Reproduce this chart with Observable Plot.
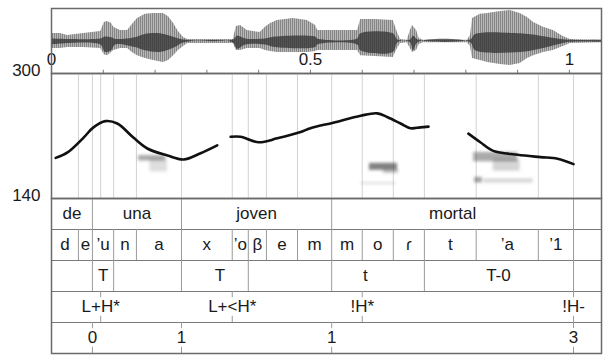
<!DOCTYPE html>
<html><head><meta charset="utf-8">
<script src="https://cdn.jsdelivr.net/npm/d3@7"></script>
<script src="https://cdn.jsdelivr.net/npm/@observablehq/plot@0.6"></script>
<style>
body{margin:0;background:#fff;}
#chart{position:relative;width:607px;height:358px;}
#chart svg{position:absolute;left:0;overflow:visible;}
</style></head><body><div id="chart"></div>
<script>
// ---------- waveform envelope (time in s, amplitude -1..1) ----------
const waveTime  = [0,0.017,0.031,0.062,0.095,0.102,0.108,0.116,0.120,0.133,0.147,0.156,0.166,0.181,0.197,0.216,0.226,0.236,0.245,0.255,0.263,0.351,0.357,0.365,0.378,0.403,0.413,0.423,0.436,0.467,0.494,0.510,0.514,0.591,0.597,0.625,0.660,0.668,0.674,0.687,0.693,0.697,0.705,0.710,0.718,0.803,0.809,0.813,0.828,0.842,0.867,0.886,0.905,0.919,0.931,0.950,0.969,0.988,1.002,1.062];
const waveUpper = [0.23,0.23,0.17,0.23,0.29,0.57,0.60,0.54,0.42,0.32,0.32,0.51,0.69,0.82,0.85,0.85,0.75,0.54,0.29,0.11,0.05,0.05,0.45,0.48,0.32,0.26,0.42,0.54,0.63,0.69,0.63,0.48,0.32,0.32,0.66,0.66,0.63,0.26,0.05,0.02,0.32,0.48,0.32,0.08,0.02,0.02,0.17,0.69,0.82,0.85,0.91,0.94,0.85,0.72,0.57,0.42,0.32,0.14,0.05,0.02];
const waveLower = [-0.23,-0.23,-0.2,-0.2,-0.23,-0.42,-0.45,-0.35,-0.29,-0.23,-0.23,-0.35,-0.45,-0.54,-0.6,-0.66,-0.6,-0.45,-0.29,-0.17,-0.08,-0.08,-0.29,-0.29,-0.23,-0.23,-0.29,-0.32,-0.35,-0.35,-0.35,-0.32,-0.29,-0.29,-0.45,-0.48,-0.51,-0.23,-0.08,-0.05,-0.23,-0.35,-0.29,-0.11,-0.05,-0.05,-0.17,-0.54,-0.6,-0.66,-0.72,-0.75,-0.69,-0.54,-0.45,-0.35,-0.29,-0.17,-0.08,-0.05];
const coreTime  = [0,0.095,0.104,0.116,0.124,0.162,0.181,0.210,0.239,0.255,0.351,0.359,0.375,0.413,0.432,0.510,0.514,0.591,0.597,0.660,0.669,0.693,0.699,0.708,0.809,0.819,0.905,0.944,0.983,1.002,1.062];
const coreUpper = [0.06,0.06,0.12,0.10,0.05,0.10,0.20,0.22,0.10,0.03,0.03,0.15,0.06,0.06,0.12,0.12,0.06,0.06,0.22,0.22,0.03,0.03,0.15,0.03,0.03,0.20,0.22,0.15,0.05,0.02,0.02];
const coreLower = [-0.12,-0.12,-0.35,-0.30,-0.12,-0.20,-0.30,-0.35,-0.20,-0.06,-0.06,-0.25,-0.12,-0.12,-0.20,-0.20,-0.12,-0.12,-0.30,-0.35,-0.05,-0.05,-0.30,-0.05,-0.05,-0.30,-0.35,-0.25,-0.10,-0.04,-0.04];
const timeTicks  = [0.1,0.2,0.3,0.4,0.5,0.6,0.7,0.8,0.9,1.0];
const timeLabels = [0, 0.5, 1];

// ---------- pitch (Hz) ----------
const pitchTime = [0.008,0.031,0.062,0.081,0.104,0.127,0.158,0.185,0.224,0.255,0.288,0.320, 0.346,0.365,0.400,0.436,0.481,0.500,0.544,0.597,0.629,0.649,0.674,0.693,0.712,0.728, 0.805,0.828,0.853,0.900,0.944,0.977,1.008];
const pitchHz   = [192,199,218,231,239,236,218,204,195,190,198,208, 219,219,212,217,225,230,237,246,249,244,236,230,231,232, 223,212,201,196,193,191,184];
const pitchSeg  = [1,1,1,1,1,1,1,1,1,1,1,1, 2,2,2,2,2,2,2,2,2,2,2,2,2,2, 3,3,3,3,3,3,3];
const pitchLabels = [300, 140];
// faint spectrogram smudges
const smudgeT1 = [0.168,0.190,0.614,0.641,0.598,0.815,0.853,0.817,0.835];
const smudgeT2 = [0.220,0.224,0.668,0.670,0.665,0.900,0.905,0.832,0.930];
const smudgeHz1 = [188,174,176,172,158,187,175,160,160];
const smudgeHz2 = [195,191,185,177,160,199,190,167,165];
const smudgeShade = [0.5,0.2,0.75,0.35,0.25,0.5,0.25,0.55,0.25];

// ---------- annotation tiers ----------
const words      = ["de","una","joven","mortal"];
const wordStart  = [0,0.079,0.251,0.541];
const wordEnd    = [0.079,0.251,0.541,1.008];
const phones     = ["d","e","’u","n","a","x","’o","β","e","m","m","o","ɾ","t","’a","’1"];
const phoneStart = [0,0.052,0.079,0.120,0.164,0.251,0.349,0.380,0.415,0.475,0.541,0.600,0.660,0.720,0.820,0.940];
const phoneEnd   = [0.052,0.079,0.120,0.164,0.251,0.349,0.380,0.415,0.475,0.541,0.600,0.660,0.720,0.820,0.940,1.008];
const toneBounds = [0.079,0.120,0.251,0.380,0.541,0.720,1.008];
const toneLabels = ["T","T","t","T-0"];
const toneTimes  = [0.100,0.325,0.606,0.863];
const accentLabels = ["L+H*","L+<H*","!H*","!H-"];
const accentTimes  = [0.095,0.349,0.600,1.008];
const breakLabels  = ["0","1","1","3"];
const breakTimes   = [0.079,0.251,0.541,1.008];

const W = 607, ML = 51, MR = 6, TMAX = 1.062;
const FONT = '"Liberation Sans", Arial, Helvetica, sans-serif';
const baseStyle = {fontFamily: FONT, fontSize: "17px", color: "#1a1a1a", background: "transparent", overflow: "visible"};
const chart = document.getElementById("chart");

// ---- waveform panel ----
const wave = waveTime.map((t, i) => ({t, hi: waveUpper[i], lo: waveLower[i]}));
const core = coreTime.map((t, i) => ({t, hi: coreUpper[i], lo: coreLower[i]}));
const p1 = Plot.plot({
  width: W, height: 74, marginLeft: ML, marginRight: MR, marginTop: 8, marginBottom: 1,
  x: {domain: [0, TMAX], axis: null}, y: {domain: [-1, 1], axis: null},
  style: baseStyle,
  marks: [
    Plot.areaY(wave, {x: "t", y1: "lo", y2: "hi", fill: "url(#wavestripe)"}),
    Plot.areaY(core, {x: "t", y1: "lo", y2: "hi", fill: "#2a2a2a", fillOpacity: 0.7, curve: "catmull-rom"}),
    Plot.ruleX(timeTicks, {x: d => d, y1: () => -1, y2: () => -0.9, stroke: "#777"}),
    Plot.text(timeLabels, {x: d => d, y: () => -0.57, text: d => String(d), fontSize: 17, fill: "#1a1a1a"}),
    Plot.frame({stroke: "#6a6a6a", strokeWidth: 1.5})
  ]
});
p1.insertAdjacentHTML("afterbegin",
  '<defs><pattern id="wavestripe" width="2" height="20" patternUnits="userSpaceOnUse">' +
  '<rect width="2" height="20" fill="#b8b8b8"/><rect width="1" height="20" fill="#858585"/></pattern></defs>');
p1.style.top = "0px";
chart.appendChild(p1);

// ---- pitch panel ----
const gridTimes = Array.from(new Set([...phoneStart.slice(1), ...phoneEnd, ...accentTimes])).sort((a, b) => a - b);
const pitch = pitchTime.map((t, i) => ({t, hz: pitchHz[i], seg: pitchSeg[i]}));
const smudges = smudgeT1.map((t, i) => ({t1: t, t2: smudgeT2[i], h1: smudgeHz1[i], h2: smudgeHz2[i], s: smudgeShade[i]}));
const p2 = Plot.plot({
  width: W, height: 127, marginLeft: ML, marginRight: MR, marginTop: 1, marginBottom: 1,
  x: {domain: [0, TMAX], axis: null}, y: {domain: [140, 300], axis: null},
  opacity: {domain: [0, 1], range: [0, 1]},
  style: baseStyle,
  marks: [
    Plot.ruleX(gridTimes, {x: d => d, stroke: "#d2d2d2", strokeWidth: 1}),
    Plot.rect(smudges, {x1: "t1", x2: "t2", y1: "h1", y2: "h2", fill: "#555", fillOpacity: "s"}),
    Plot.line(pitch, {x: "t", y: "hz", z: "seg", stroke: "#111", strokeWidth: 2.6, curve: "catmull-rom"}),
    Plot.text(pitchLabels, {x: () => 0, y: d => d, text: d => String(d), textAnchor: "end", dx: -11, dy: -3, fontSize: 17, fill: "#1a1a1a"}),
    Plot.frame({stroke: "#6a6a6a", strokeWidth: 1.5})
  ]
});
p2.insertAdjacentHTML("afterbegin",
  '<defs><filter id="smudgeblur" x="-50%" y="-50%" width="200%" height="200%"><feGaussianBlur stdDeviation="1.6"/></filter></defs>');
const rectGroup = p2.querySelector('g[aria-label="rect"]');
if (rectGroup) rectGroup.setAttribute("filter", "url(#smudgeblur)");
p2.style.top = "72px";
chart.appendChild(p2);

// ---- annotation tiers ----
const wordData  = words.map((w, i) => ({w, a: wordStart[i], b: wordEnd[i]}));
const phoneData = phones.map((w, i) => ({w, a: phoneStart[i], b: phoneEnd[i]}));
const toneData  = toneLabels.map((w, i) => ({w, t: toneTimes[i]}));
const accData   = accentLabels.map((w, i) => ({w, t: accentTimes[i]}));
const brkData   = breakLabels.map((w, i) => ({w, t: breakTimes[i]}));
const lineC = "#9a9a9a";
const p3 = Plot.plot({
  width: W, height: 161, marginLeft: ML, marginRight: MR, marginTop: 1, marginBottom: 5,
  x: {domain: [0, TMAX], axis: null}, y: {domain: [0, 5], reverse: true, axis: null},
  style: baseStyle,
  marks: [
    Plot.ruleY([1, 2, 3, 4], {y: d => d, stroke: "#7a7a7a", strokeWidth: 1.2}),
    Plot.ruleX(wordEnd, {x: d => d, y1: () => 0, y2: () => 1, stroke: lineC}),
    Plot.ruleX(phoneEnd, {x: d => d, y1: () => 1, y2: () => 2, stroke: lineC}),
    Plot.ruleX(toneBounds, {x: d => d, y1: () => 2, y2: () => 3, stroke: lineC}),
    Plot.ruleX(accentTimes, {x: d => d, y1: () => 3, y2: () => 3.2, stroke: lineC}),
    Plot.ruleX(accentTimes, {x: d => d, y1: () => 3.8, y2: () => 4, stroke: lineC}),
    Plot.ruleX(breakTimes, {x: d => d, y1: () => 4, y2: () => 4.2, stroke: lineC}),
    Plot.ruleX(breakTimes, {x: d => d, y1: () => 4.8, y2: () => 5, stroke: lineC}),
    Plot.text(wordData, {x: d => (d.a + d.b) / 2, y: () => 0.5, text: "w", fontSize: 17, fill: "#1a1a1a"}),
    Plot.text(phoneData, {x: d => (d.a + d.b) / 2, y: () => 1.5, text: "w", fontSize: 17, fill: "#1a1a1a"}),
    Plot.text(toneData, {x: "t", y: () => 2.5, text: "w", fontSize: 17, fill: "#1a1a1a"}),
    Plot.text(accData, {x: "t", y: () => 3.5, text: "w", fontSize: 17, fill: "#1a1a1a"}),
    Plot.text(brkData, {x: "t", y: () => 4.5, text: "w", fontSize: 17, fill: "#1a1a1a"}),
    Plot.frame({stroke: "#6a6a6a", strokeWidth: 1.5})
  ]
});
p3.style.top = "197px";
chart.appendChild(p3);
</script></body></html>
